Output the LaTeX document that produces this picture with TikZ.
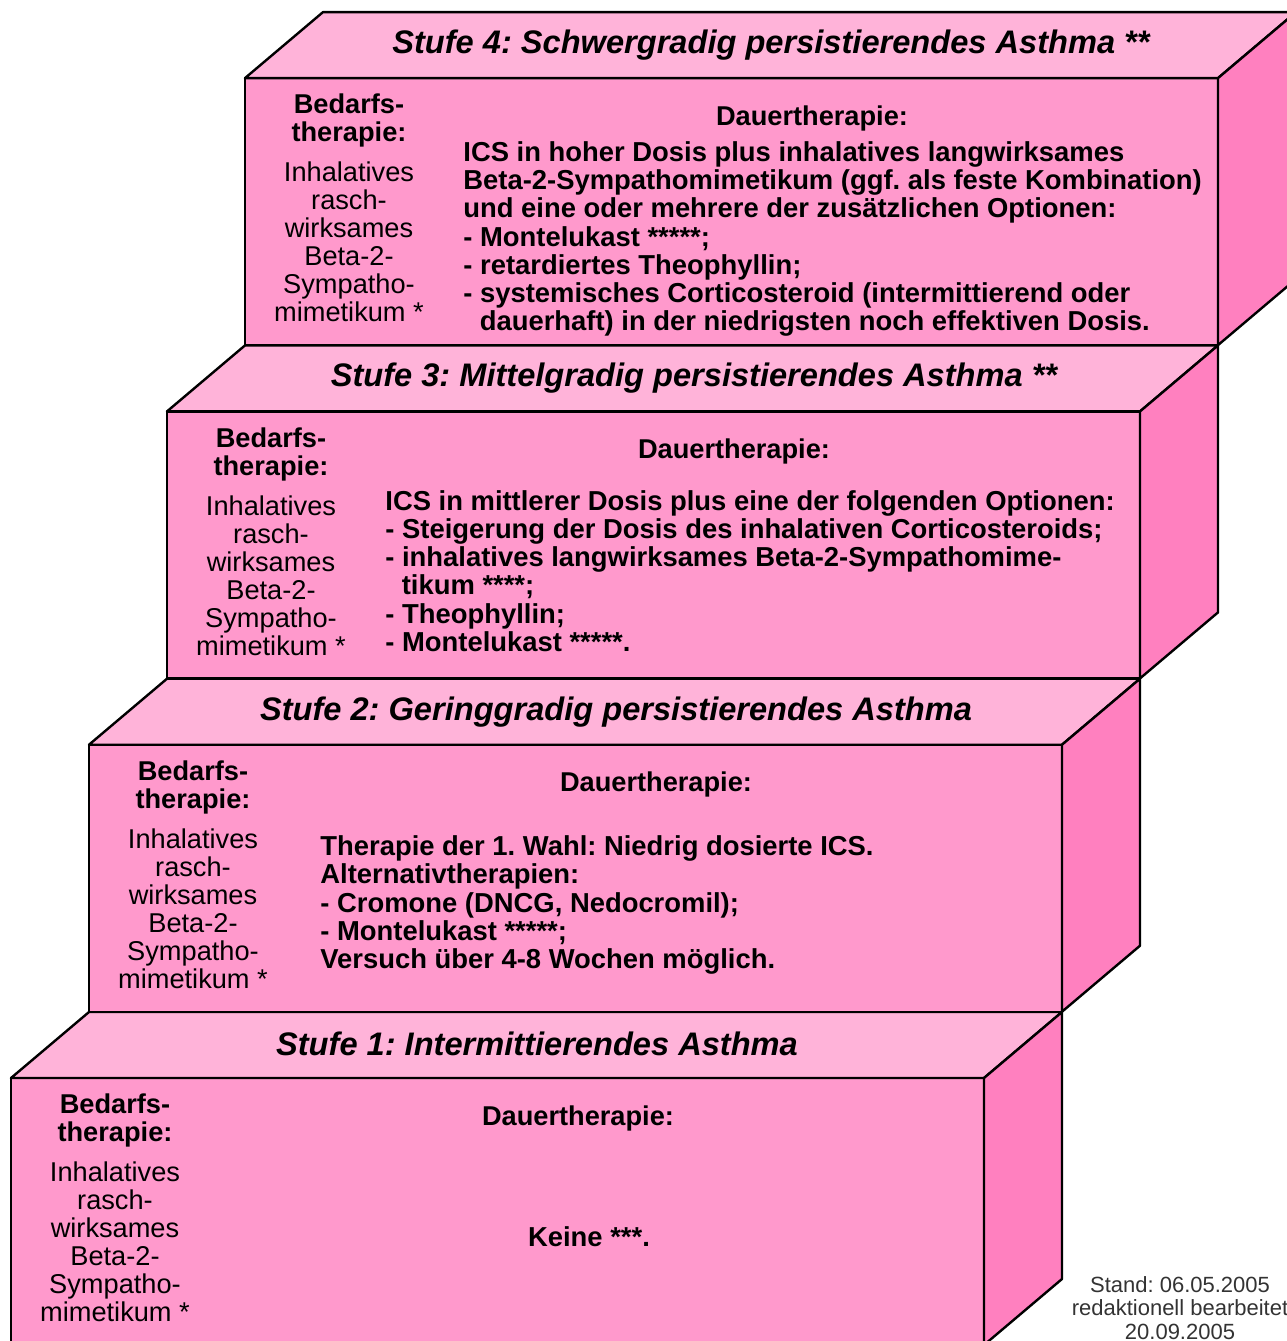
\documentclass[tikz,border=0pt]{standalone}
\usepackage{fontspec}
\setmainfont{Liberation Sans}
\usetikzlibrary{positioning}

\definecolor{frontpink}{HTML}{FF99CC}
\definecolor{toppink}{HTML}{FFB3D9}
\definecolor{sidepink}{HTML}{FF80BF}

\begin{document}
\frenchspacing
\begin{tikzpicture}[x=0.5pt, y=-0.5pt,
  face/.style={draw=black, line width=1.2pt, line join=round},
  heading/.style={font=\fontsize{16.3}{18}\selectfont\bfseries\itshape},
  dauer/.style={font=\fontsize{13.6}{14}\selectfont\bfseries},
  bedarf/.style={align=center, font=\fontsize{13.6}{14}\selectfont},
  maintext/.style={align=left, anchor=west, inner sep=0pt, font=\fontsize{13.7}{14.15}\selectfont\bfseries},
  stand/.style={align=center, text=black!80, font=\fontsize{11}{11.8}\selectfont}]
\useasboundingbox (0,0) rectangle (1287,1341);
\clip (0,0) rectangle (1287,1341);
% the four steps, each a box seen from the front
\foreach \k in {1,...,4} {
  \pgfmathsetmacro{\xo}{11+78*(\k-1)}
  \pgfmathsetmacro{\yo}{1078-333.3*(\k-1)}
  \coordinate (s\k) at (\xo,\yo);
  \draw[face, fill=frontpink] (s\k) rectangle ++(973,267);
  \draw[face, fill=toppink] (s\k) -- ++(78,-66) -- ++(973,0) -- ++(-78,66) -- cycle;
  \draw[face, fill=sidepink] (\xo+973,\yo) -- ++(78,-66) -- ++(0,267) -- ++(-78,66) -- cycle;
  \node[dauer] (dauer\k) at (\xo+567,\yo+40) {Dauertherapie:};
  \node[bedarf] (bed\k) at (\xo+104,\yo+130) {\textbf{Bedarfs-}\\\textbf{therapie:}\\[6pt]Inhalatives\\rasch-\\wirksames\\Beta-2-\\Sympatho-\\mimetikum *};
}
% headings on the top faces
\node[heading] (head4) at (771,45) {Stufe 4: Schwergradig persistierendes Asthma **};
\node[heading] (head3) at (694,378) {Stufe 3: Mittelgradig persistierendes Asthma **};
\node[heading] (head2) at (616,712) {Stufe 2: Geringgradig persistierendes Asthma};
\node[heading] (head1) at (537,1044) {Stufe 1: Intermittierendes Asthma};
% long-term therapy
\node[maintext] (text4) at (463,239) {ICS in hoher Dosis plus inhalatives langwirksames\\
  Beta-2-Sympathomimetikum (ggf. als feste Kombination)\\
  und eine oder mehrere der zusätzlichen Optionen:\\
  - Montelukast *****;\\
  - retardiertes Theophyllin;\\
  - systemisches Corticosteroid (intermittierend oder\\
  \hspace*{0.6em}dauerhaft) in der niedrigsten noch effektiven Dosis.};
\node[maintext] (text3) at (385,571) {ICS in mittlerer Dosis plus eine der folgenden Optionen:\\
  - Steigerung der Dosis des inhalativen Corticosteroids;\\
  - inhalatives langwirksames Beta-2-Sympathomime-\\
  \hspace*{0.6em}tikum ****;\\
  - Theophyllin;\\
  - Montelukast *****.};
\node[maintext] (text2) at (320,905) {Therapie der 1. Wahl: Niedrig dosierte ICS.\\
  Alternativtherapien:\\
  - Cromone (DNCG, Nedocromil);\\
  - Montelukast *****;\\
  Versuch über 4-8 Wochen möglich.};
\node[maintext, anchor=center] (text1) at (589,1237) {Keine ***.};
\node[stand] (stand) at (1180,1308) {Stand: 06.05.2005\\redaktionell bearbeitet\\20.09.2005};
\end{tikzpicture}
\end{document}
